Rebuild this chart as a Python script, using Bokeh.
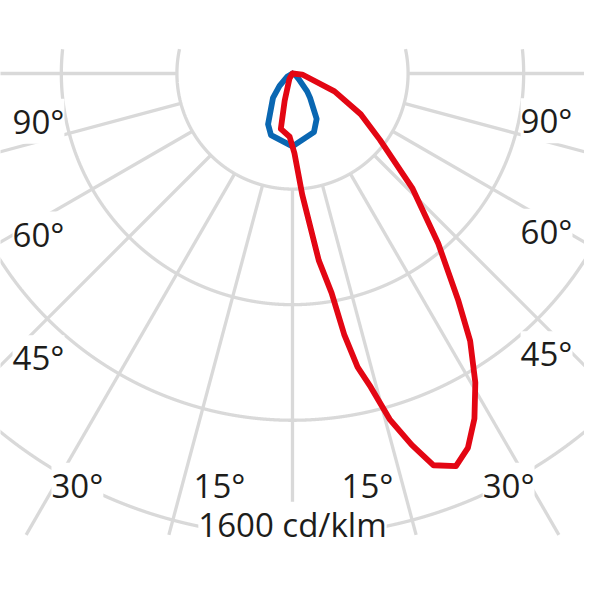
import numpy as np
from bokeh.plotting import figure
from bokeh.models import Range1d, Label
from bokeh.embed import file_html
from bokeh.resources import INLINE

# ---------------- data (angle from nadir in degrees, + = right side; intensity in cd/klm)
red_angle = [90, 84, 67, 59.2, 52.8, 46.2, 40.6, 36.2, 33.6, 30.6, 27.8, 25.1, 22.6,
             19.8, 17.8, 15.7, 14.0, 12.5, 11.2, 10.1, 8.0, 4.6, 1.4, -2.6, -11.9, -16, -31, -90]
red_cdklm = [0, 34, 158, 275, 380, 576, 775, 970, 1111, 1243, 1350, 1431, 1472,
             1441, 1350, 1243, 1118, 1041, 920, 771, 653, 421, 276, 219, 196, 98, 20, 0]

blue_angle = [90, 60, 48, 39.3, 35.8, 28, 20.1, 0, -19.2, -25.7, -38.7, -46.3, -60, -90]
blue_cdklm = [0, 12, 30, 80, 104, 178, 216, 252, 226, 195, 108, 62, 20, 0]

ring_values = [400, 800, 1200, 1600]
spoke_angles = list(range(-90, 91, 15))

label_texts = ["90°", "60°", "45°", "30°", "15°", "15°", "30°", "45°", "60°", "90°"]
scale_text = "1600 cd/klm"

# ---------------- layout (reference pixel geometry)
W = 584
CX, CY = 300.0, 75.0          # polar origin in reference px
K = 1600.0 / 475.0            # cd/klm per reference px
CLIP_TOP, CLIP_BOT = 50.0, 549.0   # visible grid band in reference px


def ref(xr, yr):
    return (xr - CX) * K, (CY - yr) * K


x0, y1 = ref(0, 0)
x1, y0 = ref(600, 600)

label_pos = [(39, 124), (39, 240), (39, 367), (79, 498), (225, 498),
             (377, 498), (522, 498), (561, 363), (561, 237), (561, 123.5)]
scale_pos = (300, 538)

GRID = "#d9d9d9"
RED = "#e30613"
BLUE = "#0a67b2"
TXT = "#1d1d1b"

p = figure(width=W, height=W, output_backend="svg", toolbar_location=None,
           x_range=Range1d(x0, x1), y_range=Range1d(y0, y1),
           x_axis_location=None, y_axis_location=None,
           min_border=0)
p.grid.visible = False
p.outline_line_color = None
p.background_fill_color = "white"
p.border_fill_color = "white"

ytop = (CY - CLIP_TOP) * K
ybot = (CY - CLIP_BOT) * K

# rings, clipped to the visible band
t = np.radians(np.linspace(-180, 180, 14401))
for rv in ring_values:
    gx = rv * np.sin(t)
    gy = -rv * np.cos(t)
    m = (gy > ytop) | (gy < ybot)
    gx = np.where(m, np.nan, gx)
    gy = np.where(m, np.nan, gy)
    p.line(gx, gy, line_color=GRID, line_width=3.3)

# spokes from the inner ring outwards, clipped to the visible band
xs, ys = [], []
for a in spoke_angles:
    tr = np.radians(a)
    r0 = ring_values[0]
    c = np.cos(tr)
    r1 = (-ybot) / c if c > 1e-6 else 4000
    xs.append([r0 * np.sin(tr), r1 * np.sin(tr)])
    ys.append([-r0 * c, -r1 * c])
p.multi_line(xs, ys, line_color=GRID, line_width=3.3)


def polar_xy(ang, val):
    tt = np.radians(np.asarray(ang, dtype=float))
    v = np.asarray(val, dtype=float)
    return v * np.sin(tt), -v * np.cos(tt)


bx, by = polar_xy(blue_angle, blue_cdklm)
p.line(bx, by, line_color=BLUE, line_width=5.8, line_join="round", line_cap="round")
rx, ry = polar_xy(red_angle, red_cdklm)
p.line(rx, ry, line_color=RED, line_width=5.8, line_join="round", line_cap="round")

FS = "33px"
for txt, (xr, yr) in zip(label_texts, label_pos):
    lx, ly = ref(xr, yr)
    p.add_layout(Label(x=lx, y=ly, text=txt, text_align="center", text_baseline="alphabetic",
                       text_font="Open Sans", text_font_size=FS, text_color=TXT,
                       background_fill_color="white"))
sx, sy = ref(*scale_pos)
p.add_layout(Label(x=sx, y=sy, text=scale_text, text_align="center", text_baseline="alphabetic",
                   text_font="Open Sans", text_font_size=FS, text_color=TXT,
                   background_fill_color="white"))

open("out.html", "w").write(file_html(p, INLINE))
